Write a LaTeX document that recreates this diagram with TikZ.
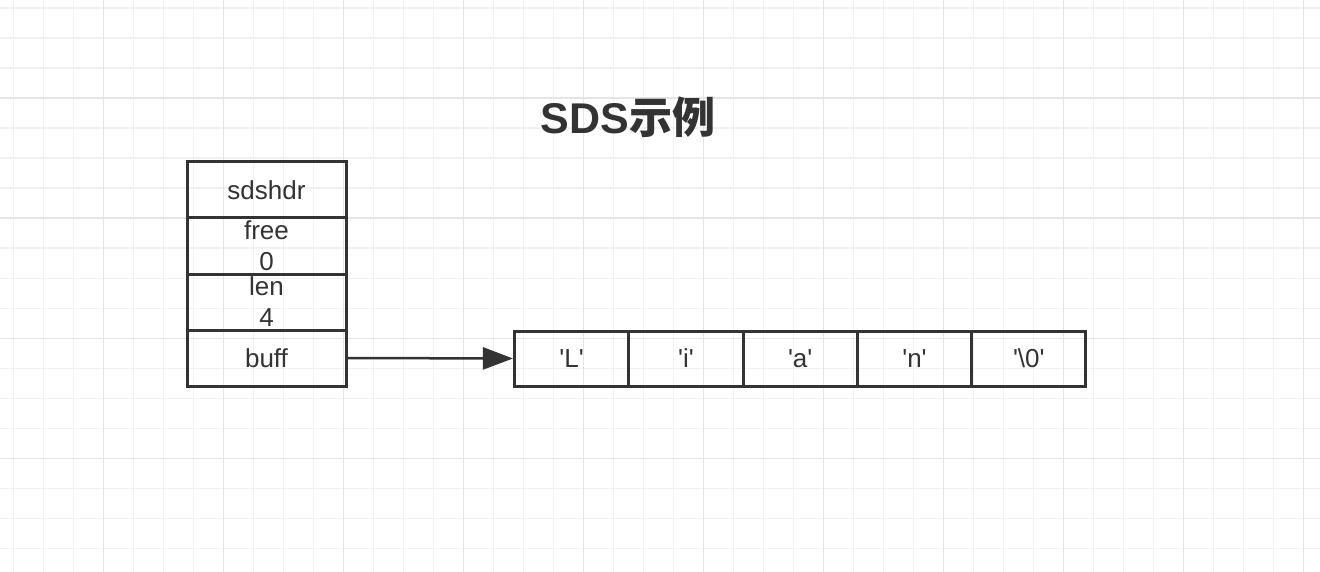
\documentclass[tikz,border=0pt]{standalone}
\usepackage{fontspec}
\setmainfont{Liberation Sans}
\newfontfamily\cjkfont{Noto Sans CJK SC}
\usetikzlibrary{arrows.meta}
\definecolor{ink}{HTML}{333333}
\definecolor{gridminor}{HTML}{F1F1F1}
\definecolor{gridmajor}{HTML}{E4E4E4}
\newcommand\myq{\textquotesingle}
\tikzset{
  cell/.style={draw=ink, line width=3pt, text=ink, minimum width=159pt, minimum height=56pt, inner sep=0pt, align=center, font=\fontsize{26}{31}\selectfont},
  arrcell/.style={draw=ink, line width=3pt, text=ink, minimum width=114.3pt, minimum height=55pt, inner sep=0pt, font=\fontsize{26}{31}\selectfont},
  link/.style={draw=ink, line width=2.5pt, -{Triangle[length=30pt,width=22pt]}},
}
\begin{document}
\begin{tikzpicture}[x=1pt,y=-1pt]
\fill[white] (0,0) rectangle (1320,572);
\useasboundingbox (0,0) rectangle (1320,572);
% grid
\foreach \i in {0,...,43} {
  \draw[gridminor, line width=1.6pt] ({13.3+30*\i},0) -- ({13.3+30*\i},572);
}
\foreach \j in {0,...,18} {
  \draw[gridminor, line width=1.6pt] (0,{8.3+30*\j}) -- (1320,{8.3+30*\j});
}
\foreach \i in {0,...,10} {
  \draw[gridmajor, line width=1.6pt] ({103.3+120*\i},0) -- ({103.3+120*\i},572);
}
\foreach \j in {0,...,3} {
  \draw[gridmajor, line width=1.6pt] (0,{98.3+120*\j}) -- (1320,{98.3+120*\j});
}
% title
\node[text=ink, font=\fontsize{43}{43}\selectfont\bfseries, inner sep=0pt] (title) at (628,117) {SDS{\cjkfont\bfseries 示例}};
% sdshdr struct
\node[cell] (hdr) at (266.5,190) {sdshdr};
\node[cell] (free) at (266.5,246) {free\\0};
\node[cell] (len) at (266.5,302) {len\\4};
\node[cell] (buff) at (266.5,358) {buff};
% char array
\node[arrcell] (c1) at (571.6,358.5) {\myq L\myq};
\node[arrcell] (c2) at (685.9,358.5) {\myq i\myq};
\node[arrcell] (c3) at (800.2,358.5) {\myq a\myq};
\node[arrcell] (c4) at (914.5,358.5) {\myq n\myq};
\node[arrcell] (c5) at (1028.8,358.5) {\myq\textbackslash 0\myq};
% pointer
\draw[link] (buff.east) -- (c1.west);
\end{tikzpicture}
\end{document}
